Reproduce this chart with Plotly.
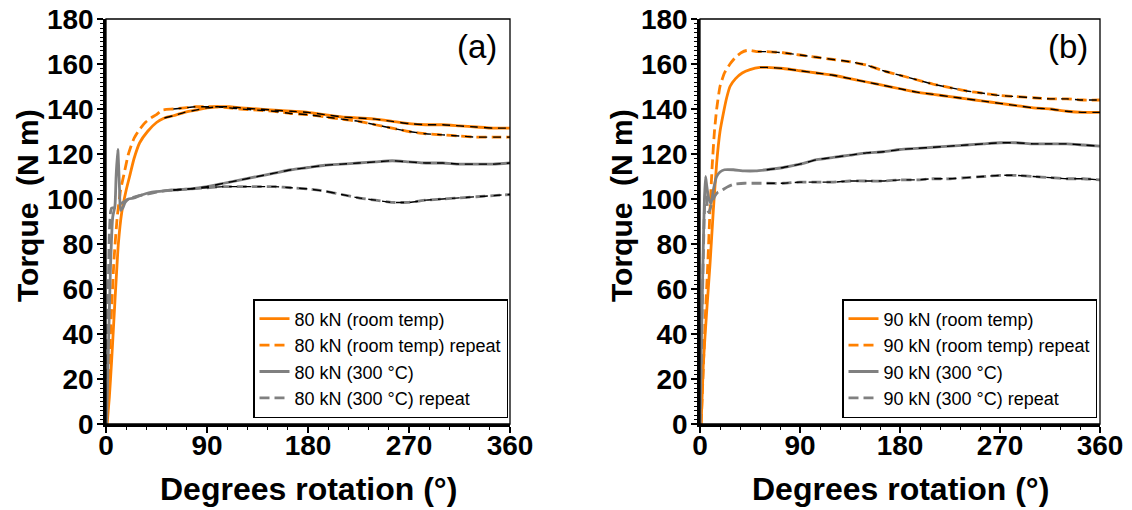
import plotly.graph_objects as go
from plotly.subplots import make_subplots

# ---- panel (a): 80 kN ----
a_rt_x = [1, 3, 5, 8, 11, 14, 18, 21, 25, 30, 37, 45, 52, 60, 70, 80, 90, 100, 110, 120, 135, 150,
          165, 180, 195, 210, 225, 240, 255, 270, 285, 300, 315, 330, 345, 360]
a_rt_y = [0, 12, 28, 55, 80, 94, 104, 110, 118, 125, 130, 134, 136, 137, 138.5, 139.5, 140.5, 141, 141,
          140.5, 140, 139.5, 139, 138.5, 137.5, 136.5, 136, 135.5, 134.5, 133.5, 133, 133, 132.5, 132,
          131.5, 131.5]
a_rtr_x = [0.5, 2, 4, 7, 10, 13, 16, 20, 25, 30, 35, 40, 45, 50, 60, 70, 80, 90, 100, 110, 120, 135,
           150, 165, 180, 195, 210, 225, 240, 255, 270, 285, 300, 315, 330, 345, 360]
a_rtr_y = [0, 15, 40, 72, 92, 104, 111, 120, 127, 131, 134, 136, 137.5, 139.5, 140, 140.5, 141, 141,
           141, 140.5, 140, 139.5, 139, 138, 137.5, 136.5, 135.5, 134.5, 133, 131.5, 130, 129, 128.5,
           128, 127.5, 127.5, 127.5]
a_ht_x = [0.5, 2, 4, 6, 8, 9, 10.5, 12, 13, 15, 17, 20, 25, 30, 40, 50, 60, 75, 90, 105, 120, 135, 150,
          165, 180, 195, 210, 225, 240, 255, 270, 285, 300, 315, 330, 345, 360]
a_ht_y = [0, 30, 70, 92, 97, 110, 122, 105, 95, 96, 98.5, 100, 100.5, 101.5, 103, 103.5, 104, 104.5,
          105.5, 107, 108.5, 110, 111.5, 113, 114, 115, 115.5, 116, 116.5, 117, 116.5, 116, 116, 115.5,
          115.5, 115.5, 116]
a_htr_x = [0, 1, 2, 3, 4, 5, 7, 10, 15, 20, 30, 40, 50, 60, 75, 90, 105, 120, 135, 150, 165, 180, 195,
           210, 225, 240, 255, 270, 285, 300, 315, 330, 345, 360]
a_htr_y = [0, 30, 60, 85, 94, 96, 96, 97, 98.5, 100, 101.5, 102.5, 103.5, 104, 104.5, 105, 105.5,
           105.5, 105.5, 105.5, 105, 104.5, 103.5, 102, 100.5, 99.5, 98.5, 98.5, 99.5, 100, 100.5, 101,
           101.5, 102]

# ---- panel (b): 90 kN ----
b_rt_x = [1, 3, 6, 9, 12, 15, 18, 21, 24, 27, 32, 38, 45, 54, 60, 75, 90, 105, 120, 135, 150, 165,
          180, 195, 210, 225, 240, 255, 270, 285, 300, 315, 330, 345, 360]
b_rt_y = [0, 27, 50, 71, 95, 116, 130, 138, 145, 150, 153.5, 156, 157.5, 158.5, 158.5, 158, 157, 156,
          155, 153.5, 152, 150.5, 149, 147.5, 146.5, 145.5, 144.5, 143.5, 142.5, 141.5, 140.5, 140, 139,
          138.5, 138.5]
b_rtr_x = [1, 3, 5, 7, 9, 11, 13, 15, 18, 22, 27, 32, 37, 42, 46, 52, 60, 75, 90, 105, 120, 135, 150,
           165, 180, 195, 210, 225, 240, 255, 270, 285, 300, 315, 330, 345, 360]
b_rtr_y = [0, 25, 50, 71, 95, 115, 130, 140, 150, 156, 160, 163, 165, 166, 166, 165.5, 165.5, 165, 164,
           163, 162, 161, 159.5, 157, 155, 153, 151, 149.5, 148, 147, 146, 145.5, 145, 144.5, 144.5,
           144, 144]
b_ht_x = [0, 1, 2, 3, 4, 5, 6, 8, 10, 12, 15, 18, 22, 30, 40, 50, 60, 75, 90, 105, 120, 135, 150, 165,
          180, 195, 210, 225, 240, 255, 270, 285, 300, 315, 330, 345, 360]
b_ht_y = [0, 30, 55, 80, 100, 110, 106, 100, 98, 104, 110, 112, 113, 113, 112.5, 112.5, 113, 114,
          115.5, 117.5, 118.5, 119.5, 120.5, 121, 122, 122.5, 123, 123.5, 124, 124.5, 125, 125, 124.5,
          124.5, 124.5, 124, 123.5]
b_htr_x = [0, 1, 2, 3, 4, 5, 6, 7, 8, 10, 13, 16, 20, 25, 30, 40, 50, 60, 75, 90, 105, 120, 135, 150,
           165, 180, 195, 210, 225, 240, 255, 270, 285, 300, 315, 330, 345, 360]
b_htr_y = [0, 25, 50, 75, 95, 104, 100, 95, 94, 97, 101, 103, 104, 105.5, 106.5, 107, 107, 107, 107,
           107.5, 107.5, 107.5, 108, 108, 108, 108.5, 108.5, 109, 109, 109.5, 110, 110.5, 110.5, 110,
           109.5, 109, 109, 108.5]

FIT_START = 52  # fitted (black dashed) section starts here, degrees

ORANGE = "#FF8000"
GREY = "#808080"
FONT = "Liberation Sans, Arial, sans-serif"

# the page body has an 8px margin, so convert screen pixels to paper coords with that offset
W, H, OFF = 1132, 510, 8


def px(xp):
    return (xp - OFF) / W


def py(yp):
    return 1 - (yp - OFF) / H


fig = make_subplots(rows=1, cols=2)

panels = [
    (1, "legend", "80 kN", [(a_rt_x, a_rt_y), (a_rtr_x, a_rtr_y), (a_ht_x, a_ht_y), (a_htr_x, a_htr_y)]),
    (2, "legend2", "90 kN", [(b_rt_x, b_rt_y), (b_rtr_x, b_rtr_y), (b_ht_x, b_ht_y), (b_htr_x, b_htr_y)]),
]
styles = [
    ("(room temp)", ORANGE, "solid"),
    ("(room temp) repeat", ORANGE, "10px,5px"),
    ("(300 °C)", GREY, "solid"),
    ("(300 °C) repeat", GREY, "10px,5px"),
]

for col, leg, load, series in panels:
    for (xs, ys), (lab, color, dash) in zip(series, styles):
        fig.add_trace(go.Scatter(
            x=xs, y=ys, mode="lines", name=f"{load} {lab}", legend=leg,
            line=dict(color=color, width=2.8, dash=dash, shape="spline", smoothing=0.5),
        ), row=1, col=col)
    # black dashed fits over the steady part of each curve
    for xs, ys in series:
        fx = [x for x in xs if x >= FIT_START]
        fy = [y for x, y in zip(xs, ys) if x >= FIT_START]
        fig.add_trace(go.Scatter(
            x=fx, y=fy, mode="lines", showlegend=False, hoverinfo="skip",
            line=dict(color="black", width=1.4, dash="8px,6px", shape="spline", smoothing=0.5),
        ), row=1, col=col)

ydom = [py(424), py(19)]
xdoms = [[px(106), px(510)], [px(700), px(1100)]]

for i, dom in enumerate(xdoms, start=1):
    fig.update_xaxes(
        domain=dom, range=[0, 360], tickvals=[0, 90, 180, 270, 360],
        showline=True, linecolor="black", linewidth=2.5, showgrid=False, zeroline=False,
        ticks="outside", ticklen=6, tickwidth=2, tickcolor="black",
        minor=dict(tickvals=[18, 36, 54, 72, 108, 126, 144, 162, 198, 216, 234, 252, 288, 306, 324, 342],
                   ticks="outside", ticklen=3, tickwidth=1.2, tickcolor="black"),
        tickfont=dict(family=FONT, size=28, color="black", weight="bold"),
        ticklabelstandoff=-11, ticklabeloverflow="allow",
        automargin=False, row=1, col=i,
    )
    fig.update_yaxes(
        domain=ydom, range=[0, 180], dtick=20,
        showline=True, linecolor="black", linewidth=2.5, showgrid=False, zeroline=False,
        ticks="outside", ticklen=6, tickwidth=2, tickcolor="black",
        minor=dict(dtick=2, ticks="outside", ticklen=3, tickwidth=1, tickcolor="black"),
        tickfont=dict(family=FONT, size=28, color="black", weight="bold"),
        ticklabelstandoff=-2, ticklabeloverflow="allow",
        automargin=False, row=1, col=i,
    )

# thin frame on top / right
for xr, yr in [("x domain", "y domain"), ("x2 domain", "y2 domain")]:
    fig.add_shape(type="rect", xref=xr, yref=yr, x0=0, x1=1, y0=0, y1=1,
                  line=dict(color="black", width=1.3), layer="above")

# axis titles and panel letters
for xt, yt_x, lab, xc in [(308, 28, "(a)", 477), (900, 622, "(b)", 1068)]:
    fig.add_annotation(text="Degrees rotation (°)", x=px(xt), y=py(489), xref="paper", yref="paper",
                       xanchor="center", yanchor="middle", showarrow=False,
                       font=dict(family=FONT, size=32, color="black", weight="bold"))
    fig.add_annotation(text="Torque  (N m)", x=px(yt_x), y=py(206), xref="paper", yref="paper",
                       xanchor="center", yanchor="middle", showarrow=False, textangle=-90,
                       font=dict(family=FONT, size=30, color="black", weight="bold"))
    fig.add_annotation(text=lab, x=px(xc), y=py(47), xref="paper", yref="paper",
                       xanchor="center", yanchor="middle", showarrow=False,
                       font=dict(family=FONT, size=33, color="black"))

legend_style = dict(
    bgcolor="white", bordercolor="black", borderwidth=1.5,
    font=dict(family=FONT, size=18, color="black"),
    tracegroupgap=0, itemwidth=30, yanchor="bottom", xanchor="right",
)
fig.update_layout(
    width=W, height=H,
    margin=dict(l=0, r=0, t=0, b=0),
    paper_bgcolor="white", plot_bgcolor="white",
    legend=dict(x=px(508), y=py(418), **legend_style),
    legend2=dict(x=px(1097), y=py(418), **legend_style),
)

fig.write_html("out.html")
